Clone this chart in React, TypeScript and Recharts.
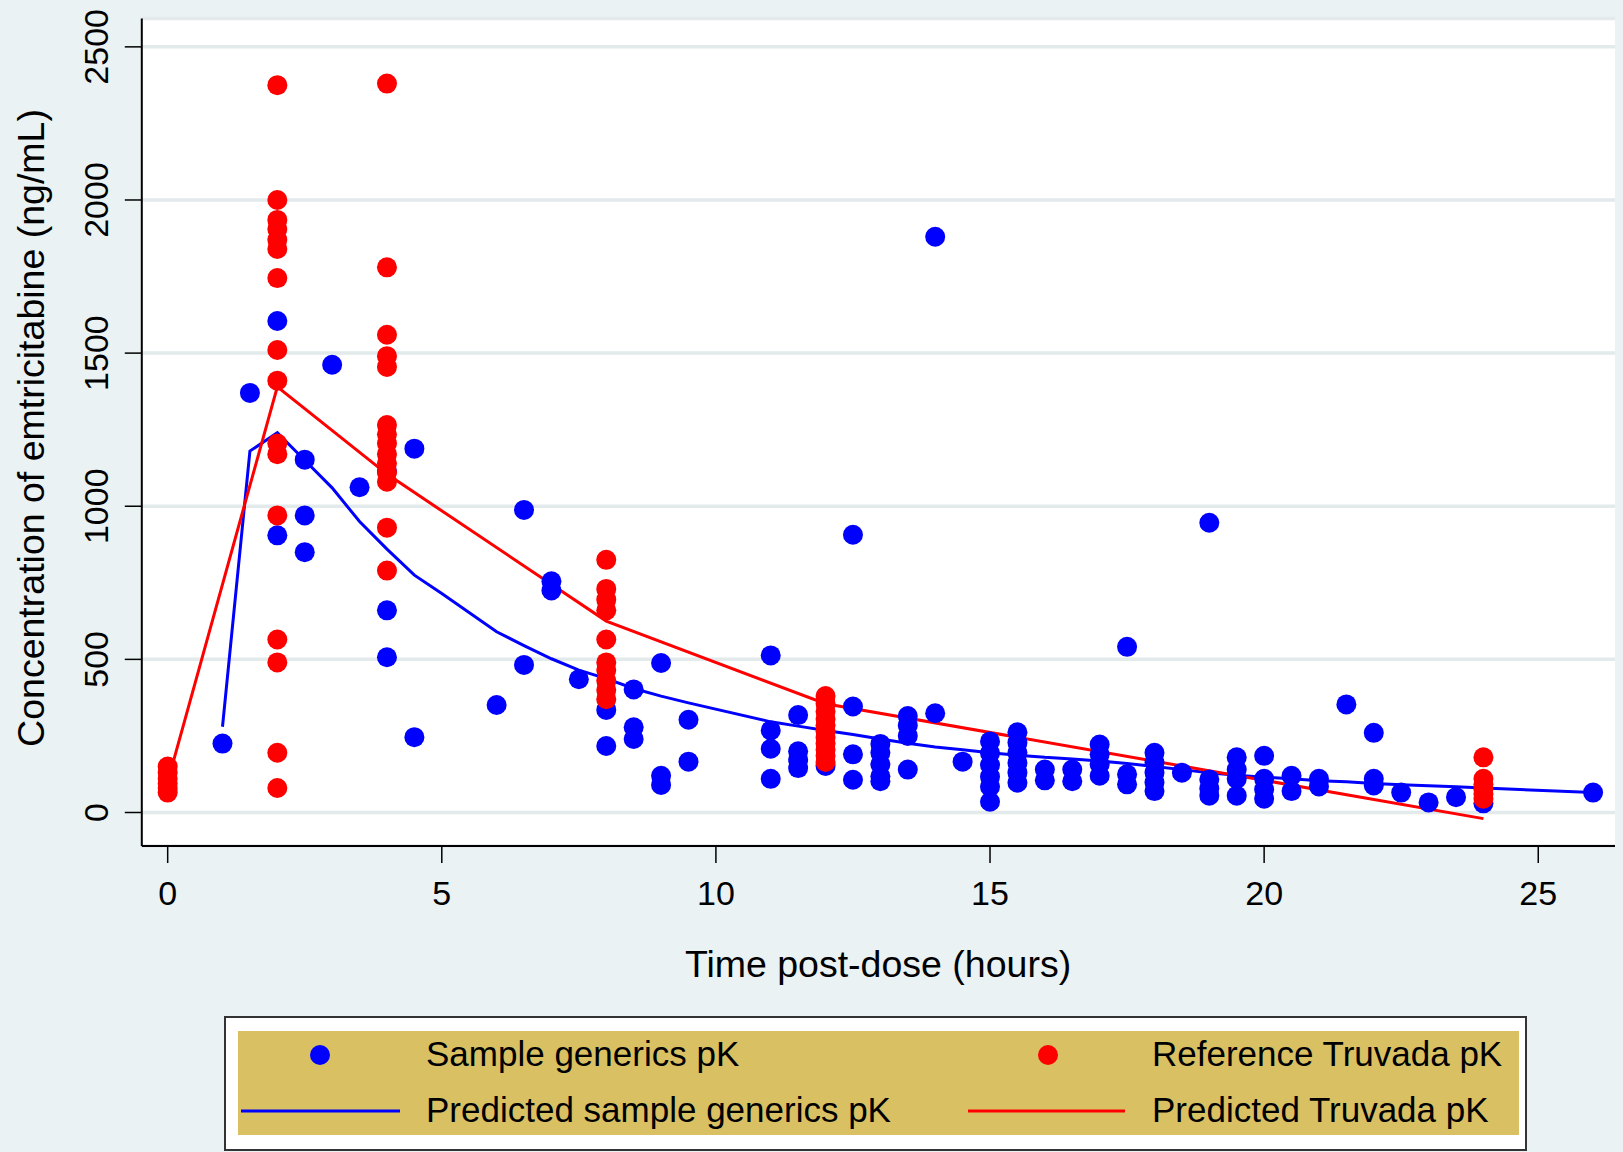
import React from "react";
import { ComposedChart, Scatter, Line, XAxis, YAxis, CartesianGrid } from "recharts";

// observed concentrations, t = hours post-dose, c = ng/mL
const sampleGenerics = [
  { t: 1, c: 225 },
  { t: 1.5, c: 1370 },
  { t: 2, c: 1605 }, { t: 2, c: 905 },
  { t: 2.5, c: 1152 }, { t: 2.5, c: 970 }, { t: 2.5, c: 850 },
  { t: 3, c: 1462 },
  { t: 3.5, c: 1062 },
  { t: 4, c: 1115 }, { t: 4, c: 660 }, { t: 4, c: 507 },
  { t: 4.5, c: 1188 }, { t: 4.5, c: 246 },
  { t: 6, c: 351 },
  { t: 6.5, c: 988 }, { t: 6.5, c: 482 },
  { t: 7, c: 755 }, { t: 7, c: 725 },
  { t: 7.5, c: 435 },
  { t: 8, c: 335 }, { t: 8, c: 217 },
  { t: 8.5, c: 402 }, { t: 8.5, c: 278 }, { t: 8.5, c: 240 },
  { t: 9, c: 488 }, { t: 9, c: 120 }, { t: 9, c: 90 },
  { t: 9.5, c: 303 }, { t: 9.5, c: 166 },
  { t: 11, c: 513 }, { t: 11, c: 268 }, { t: 11, c: 208 }, { t: 11, c: 110 },
  { t: 11.5, c: 318 }, { t: 11.5, c: 200 }, { t: 11.5, c: 172 }, { t: 11.5, c: 145 },
  { t: 12, c: 152 },
  { t: 12.5, c: 907 }, { t: 12.5, c: 346 }, { t: 12.5, c: 190 }, { t: 12.5, c: 107 },
  { t: 13, c: 224 }, { t: 13, c: 195 }, { t: 13, c: 157 }, { t: 13, c: 118 }, { t: 13, c: 102 },
  { t: 13.5, c: 315 }, { t: 13.5, c: 284 }, { t: 13.5, c: 250 }, { t: 13.5, c: 140 },
  { t: 14, c: 1880 }, { t: 14, c: 324 },
  { t: 14.5, c: 166 },
  { t: 15, c: 232 }, { t: 15, c: 194 }, { t: 15, c: 155 }, { t: 15, c: 117 }, { t: 15, c: 84 }, { t: 15, c: 35 },
  { t: 15.5, c: 262 }, { t: 15.5, c: 228 }, { t: 15.5, c: 195 }, { t: 15.5, c: 162 }, { t: 15.5, c: 130 }, { t: 15.5, c: 97 },
  { t: 16, c: 140 }, { t: 16, c: 105 },
  { t: 16.5, c: 140 }, { t: 16.5, c: 102 },
  { t: 17, c: 222 }, { t: 17, c: 190 }, { t: 17, c: 157 }, { t: 17, c: 120 },
  { t: 17.5, c: 541 }, { t: 17.5, c: 125 }, { t: 17.5, c: 92 },
  { t: 18, c: 195 }, { t: 18, c: 163 }, { t: 18, c: 130 }, { t: 18, c: 98 }, { t: 18, c: 70 },
  { t: 18.5, c: 130 },
  { t: 19, c: 946 }, { t: 19, c: 108 }, { t: 19, c: 78 }, { t: 19, c: 55 },
  { t: 19.5, c: 180 }, { t: 19.5, c: 140 }, { t: 19.5, c: 110 }, { t: 19.5, c: 55 },
  { t: 20, c: 185 }, { t: 20, c: 110 }, { t: 20, c: 75 }, { t: 20, c: 45 },
  { t: 20.5, c: 120 }, { t: 20.5, c: 70 },
  { t: 21, c: 110 }, { t: 21, c: 85 },
  { t: 21.5, c: 353 },
  { t: 22, c: 260 }, { t: 22, c: 110 }, { t: 22, c: 88 },
  { t: 22.5, c: 65 },
  { t: 23, c: 33 },
  { t: 23.5, c: 50 },
  { t: 24, c: 30 },
  { t: 26, c: 65 },
];

const referenceTruvada = [
  { t: 0, c: 150 }, { t: 0, c: 130 }, { t: 0, c: 110 }, { t: 0, c: 95 }, { t: 0, c: 80 }, { t: 0, c: 65 },
  { t: 2, c: 2375 }, { t: 2, c: 2000 }, { t: 2, c: 1935 }, { t: 2, c: 1905 }, { t: 2, c: 1870 },
  { t: 2, c: 1840 }, { t: 2, c: 1745 }, { t: 2, c: 1510 }, { t: 2, c: 1410 }, { t: 2, c: 1205 },
  { t: 2, c: 1170 }, { t: 2, c: 970 }, { t: 2, c: 565 }, { t: 2, c: 490 }, { t: 2, c: 195 }, { t: 2, c: 80 },
  { t: 4, c: 2380 }, { t: 4, c: 1780 }, { t: 4, c: 1560 }, { t: 4, c: 1490 }, { t: 4, c: 1455 },
  { t: 4, c: 1265 }, { t: 4, c: 1235 }, { t: 4, c: 1205 }, { t: 4, c: 1170 }, { t: 4, c: 1140 },
  { t: 4, c: 1110 }, { t: 4, c: 1080 }, { t: 4, c: 930 }, { t: 4, c: 790 },
  { t: 8, c: 825 }, { t: 8, c: 730 }, { t: 8, c: 695 }, { t: 8, c: 660 }, { t: 8, c: 565 },
  { t: 8, c: 490 }, { t: 8, c: 465 }, { t: 8, c: 430 }, { t: 8, c: 400 }, { t: 8, c: 370 },
  { t: 12, c: 380 }, { t: 12, c: 355 }, { t: 12, c: 330 }, { t: 12, c: 305 }, { t: 12, c: 285 },
  { t: 12, c: 265 }, { t: 12, c: 245 }, { t: 12, c: 225 }, { t: 12, c: 205 }, { t: 12, c: 185 }, { t: 12, c: 165 },
  { t: 24, c: 180 }, { t: 24, c: 110 }, { t: 24, c: 92 }, { t: 24, c: 75 }, { t: 24, c: 60 }, { t: 24, c: 45 },
];

// model predictions
const predictedSample = [
  { t: 1, c: 280 }, { t: 1.5, c: 1180 }, { t: 2, c: 1240 }, { t: 2.5, c: 1150 },
  { t: 3, c: 1060 }, { t: 3.5, c: 950 }, { t: 4, c: 860 }, { t: 4.5, c: 775 },
  { t: 5, c: 715 }, { t: 6, c: 590 }, { t: 6.5, c: 545 }, { t: 7, c: 502 },
  { t: 7.5, c: 465 }, { t: 8, c: 437 }, { t: 8.5, c: 405 }, { t: 9, c: 380 },
  { t: 9.5, c: 358 }, { t: 11, c: 296 }, { t: 11.5, c: 282 }, { t: 12, c: 268 },
  { t: 12.5, c: 255 }, { t: 13, c: 240 }, { t: 13.5, c: 226 }, { t: 14, c: 214 },
  { t: 14.5, c: 205 }, { t: 15, c: 195 }, { t: 15.5, c: 187 }, { t: 16, c: 180 },
  { t: 16.5, c: 175 }, { t: 17, c: 168 }, { t: 17.5, c: 160 }, { t: 18, c: 150 },
  { t: 18.5, c: 140 }, { t: 19, c: 130 }, { t: 19.5, c: 122 }, { t: 20, c: 115 },
  { t: 20.5, c: 110 }, { t: 21, c: 104 }, { t: 21.5, c: 100 }, { t: 22, c: 95 },
  { t: 22.5, c: 91 }, { t: 23, c: 87 }, { t: 23.5, c: 84 }, { t: 24, c: 80 }, { t: 26, c: 65 },
];

const predictedTruvada = [
  { t: 0, c: 100 }, { t: 2, c: 1390 }, { t: 4, c: 1105 },
  { t: 8, c: 625 }, { t: 12, c: 355 }, { t: 24, c: -20 },
];

const xTicks = [0, 5, 10, 15, 20, 25];
const yTicks = [0, 500, 1000, 1500, 2000, 2500];

const W = 1623;
const H = 1152;
const FONT = '"Liberation Sans", Arial, sans-serif';
const BG = "#eaf2f3";
const BLUE = "#0000ff";
const RED = "#ff0000";

const blueDot = (p: any) => <circle cx={p.cx} cy={p.cy} r={10} fill={BLUE} />;
const redDot = (p: any) => <circle cx={p.cx} cy={p.cy} r={10} fill={RED} />;

const XTick = ({ x, payload }: any) => (
  <text x={x} y={905} textAnchor="middle" fontSize={34} fontFamily={FONT} fill="#000">
    {payload.value}
  </text>
);

const YTick = ({ y, payload }: any) => (
  <text
    transform={`translate(108, ${y}) rotate(-90)`}
    textAnchor="middle"
    fontSize={34}
    fontFamily={FONT}
    fill="#000"
  >
    {payload.value}
  </text>
);

const Legend = () => (
  <svg width={W} height={H} style={{ position: "absolute", left: 0, top: 0, pointerEvents: "none" }}>
    <rect x={225} y={1017} width={1301} height={133} fill="#fff" stroke="#333" strokeWidth={2} />
    <rect x={238} y={1031} width={1281} height={104} fill="#d8c063" />
    <g fontFamily={FONT} fontSize={35} fill="#000">
      <circle cx={320} cy={1055} r={10} fill={BLUE} />
      <text x={426} y={1066}>Sample generics pK</text>
      <circle cx={1048} cy={1055} r={10} fill={RED} />
      <text x={1152} y={1066}>Reference Truvada pK</text>
      <line x1={241} x2={400} y1={1111} y2={1111} stroke={BLUE} strokeWidth={3} />
      <text x={426} y={1122}>Predicted sample generics pK</text>
      <line x1={968} x2={1125} y1={1111} y2={1111} stroke={RED} strokeWidth={3} />
      <text x={1152} y={1122}>Predicted Truvada pK</text>
    </g>
  </svg>
);

export default function App() {
  return (
    <div style={{ position: "absolute", left: 0, top: 0, width: W, height: H, background: BG }}>
      <ComposedChart width={W} height={H} margin={{ top: 18.5, right: 8, bottom: 0, left: 0 }}>
        <CartesianGrid vertical={false} fill="#fff" stroke="#e2eaec" strokeWidth={3.5} />
        <XAxis
          type="number"
          dataKey="t"
          domain={[-0.472, 26.4]}
          allowDataOverflow
          ticks={xTicks}
          interval={0}
          height={306}
          tickSize={17}
          axisLine={{ stroke: "#000", strokeWidth: 2 }}
          tickLine={{ stroke: "#000", strokeWidth: 1.5 }}
          tick={XTick}
          label={() => (
            <text x={878} y={977} textAnchor="middle" fontSize={37.5} fontFamily={FONT} fill="#000">
              Time post-dose (hours)
            </text>
          )}
        />
        <YAxis
          type="number"
          dataKey="c"
          domain={[-109.4, 2592.6]}
          allowDataOverflow
          ticks={yTicks}
          interval={0}
          width={141.8}
          tickSize={17}
          axisLine={{ stroke: "#000", strokeWidth: 2 }}
          tickLine={{ stroke: "#000", strokeWidth: 1.5 }}
          tick={YTick}
          label={() => (
            <text
              transform="translate(44, 428) rotate(-90)"
              textAnchor="middle"
              fontSize={37.5}
              fontFamily={FONT}
              fill="#000"
            >
              Concentration of emtricitabine (ng/mL)
            </text>
          )}
        />
        <Scatter name="Sample generics pK" data={sampleGenerics} fill={BLUE} shape={blueDot} isAnimationActive={false} />
        <Scatter name="Reference Truvada pK" data={referenceTruvada} fill={RED} shape={redDot} isAnimationActive={false} />
        <Line
          name="Predicted sample generics pK"
          data={predictedSample}
          dataKey="c"
          type="linear"
          stroke={BLUE}
          strokeWidth={3}
          dot={false}
          activeDot={false}
          isAnimationActive={false}
        />
        <Line
          name="Predicted Truvada pK"
          data={predictedTruvada}
          dataKey="c"
          type="linear"
          stroke={RED}
          strokeWidth={3}
          dot={false}
          activeDot={false}
          isAnimationActive={false}
        />
      </ComposedChart>
      <Legend />
    </div>
  );
}
